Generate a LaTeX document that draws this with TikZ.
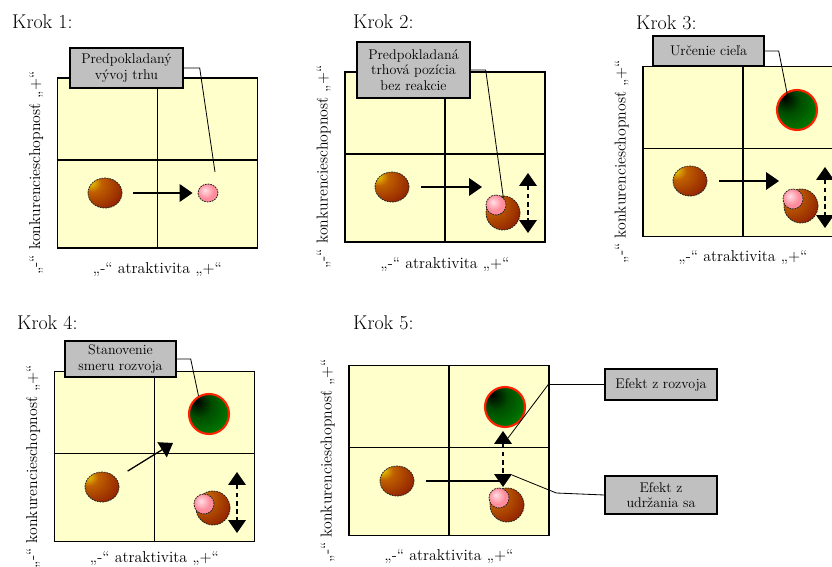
\documentclass[tikz,border=0pt]{standalone}
\usepackage{fontspec}
\usetikzlibrary{shapes,arrows.meta,calc,positioning}

\definecolor{matfill}{HTML}{FFFFCC}
\definecolor{popisfill}{HTML}{C0C0C0}
\definecolor{cielred}{HTML}{FF2000}
\definecolor{gulazlta}{HTML}{F0E000}
\definecolor{gulaoranz}{HTML}{C06000}
\definecolor{gulahneda}{HTML}{902000}
\definecolor{gulatmava}{HTML}{700000}
\colorlet{cielcierna}{black}
\colorlet{cielstred}{green!30!black}
\colorlet{cielzelena}{green!50!black}
\definecolor{trhsvetla}{HTML}{FFE0E6}
\definecolor{trhruzova}{HTML}{FF8C9C}

\pgfdeclareradialshading{hnedaball}{\pgfpoint{-24bp}{20bp}}{%
  color(0bp)=(gulazlta); color(14bp)=(gulaoranz); color(40bp)=(gulahneda); color(72bp)=(gulatmava)}
\pgfdeclareradialshading{zelenaball}{\pgfpoint{-16bp}{16bp}}{%
  color(0bp)=(cielcierna); color(16bp)=(cielstred); color(38bp)=(cielzelena); color(70bp)=(cielzelena)}
\pgfdeclareradialshading{ruzovaball}{\pgfpoint{-8bp}{8bp}}{%
  color(0bp)=(trhsvetla); color(20bp)=(trhruzova); color(60bp)=(trhruzova)}

\newcommand{\krokarrowtip}{Triangle[length=11pt,width=15pt]}
\tikzstyle{kvadr}=[draw=black, fill=matfill, line width=1.3pt, minimum width=6cm, minimum height=5.1cm, inner sep=0pt]
\tikzstyle{deliaca}=[line width=1pt]
\tikzstyle{osa}=[font=\rmfamily\fontsize{13.5}{16}\selectfont, inner sep=0pt]
\tikzstyle{krok}=[font=\rmfamily\fontsize{17}{20}\selectfont, anchor=west, inner sep=0pt]
\tikzstyle{popis}=[draw=black, fill=popisfill, line width=1.2pt, align=center, inner sep=0pt, font=\rmfamily\fontsize{12}{13}\selectfont]
\tikzstyle{vodiaca}=[line width=0.7pt]
\tikzstyle{vektor}=[-\krokarrowtip, line width=1.1pt]
\tikzstyle{posun}=[\krokarrowtip-\krokarrowtip, line width=1.1pt, dash pattern=on 4pt off 3pt]
\tikzstyle{gula}=[inner sep=0pt, draw=black!85, line width=0.7pt, dash pattern=on 1.5pt off 0.8pt]
\tikzstyle{hneda}=[gula, ellipse, shade, shading=hnedaball, minimum width=1.02cm, minimum height=0.9cm]
\tikzstyle{hnedavelka}=[gula, circle, shade, shading=hnedaball, minimum size=1.02cm]
\tikzstyle{ruzova}=[gula, circle, shade, shading=ruzovaball, minimum size=0.6cm]
\tikzstyle{ciel}=[circle, shade, shading=zelenaball, draw=cielred, line width=1.8pt, minimum size=1.2cm, inner sep=0pt]

% matica: stvorec, deliace ciary a popisy osi (#3 = odstup popisu x-osi)
\newcommand{\kvadrant}[3]{%
  \node[kvadr] (#1) at (#2) {};
  \draw[deliaca] (#1.north) -- (#1.south);
  \draw[deliaca] ([yshift=0.09cm]#1.west) -- ([yshift=0.09cm]#1.east);
  \node[osa] (#1x) at ([yshift=-#3]#1.south) {„-“ atraktivita „+“};
  \node[osa, rotate=90] (#1y) at ([xshift=-0.62cm,yshift=-0.3cm]#1.west) {„-“ konkurencieschopnosť „+“};
}

\begin{document}
\begin{tikzpicture}[x=0.03cm, y=-0.03cm]

  \useasboundingbox (0,0) rectangle (832,567);
  \fill[white] (0,0) rectangle (832,567);

  % Krok 1
  \node[krok] (krok1) at (12,22) {Krok 1:};
  \kvadrant{m1}{157.5,163}{0.62cm}
  \node[hneda] (m1firma) at (105,193) {};
  \node[ruzova, minimum width=0.6cm, minimum height=0.54cm, ellipse] (m1trh) at (208,193) {};
  \draw[vektor, shorten <=0.33cm, shorten >=0.15cm] (m1firma) -- (m1trh);
  \node[popis, minimum width=3.39cm, minimum height=1.2cm] (m1popis) at (126.5,68) {Predpokladaný\\vývoj trhu};
  \coordinate (m1koniec) at (215,172);
  \draw[vodiaca] (m1popis.east) -- ++(16,0) -- (m1koniec);

  % Krok 2
  \node[krok] (krok2) at (353,22) {Krok 2:};
  \kvadrant{m2}{445,157}{0.66cm}
  \node[hneda] (m2firma) at (392,187) {};
  \coordinate (m2cil) at (482,187);
  \draw[vektor, shorten <=0.36cm] (m2firma) -- (m2cil);
  \node[hnedavelka] (m2poz) at (503,213) {};
  \node[ruzova] (m2trh) at (496,205) {};
  \coordinate (m2hore) at (528,173);
  \coordinate (m2dole) at (528,233);
  \draw[posun] (m2hore) -- (m2dole);
  \node[popis, minimum width=3.39cm, minimum height=1.68cm] (m2popis) at (413.5,70) {Predpokladaná\\trhová pozícia\\bez reakcie};
  \draw[vodiaca] (m2popis.east) -- ++(15,0) -- (m2trh.north east);

  % Krok 3
  \node[krok] (krok3) at (636,23) {Krok 3:};
  \kvadrant{m3}{743,151.5}{0.62cm}
  \node[hneda] (m3firma) at (690,181) {};
  \coordinate (m3cil) at (779,181);
  \draw[vektor, shorten <=0.36cm] (m3firma) -- (m3cil);
  \node[hnedavelka] (m3poz) at (801,206) {};
  \node[ruzova] (m3trh) at (793,199) {};
  \coordinate (m3hore) at (825,167);
  \coordinate (m3dole) at (825,228);
  \draw[posun] (m3hore) -- (m3dole);
  \node[ciel] (m3ciel) at (797,110) {};
  \node[popis, minimum width=3.33cm, minimum height=0.9cm] (m3popis) at (708.5,51) {Určenie cieľa};
  \coordinate (m3koniec) at (788,98);
  \draw[vodiaca] (m3popis.east) -- ++(14,0) -- (m3koniec);

  % Krok 4
  \node[krok] (krok4) at (17,323) {Krok 4:};
  \kvadrant{m4}{154.5,456.5}{0.5cm}
  \node[hneda] (m4firma) at (102,487) {};
  \coordinate (m4cil) at (173,443);
  \draw[vektor, shorten <=0.4cm] (m4firma) -- (m4cil);
  \node[hnedavelka] (m4poz) at (213,508) {};
  \node[ruzova] (m4trh) at (204,504) {};
  \coordinate (m4hore) at (237,472);
  \coordinate (m4dole) at (237,533);
  \draw[posun] (m4hore) -- (m4dole);
  \node[ciel] (m4ciel) at (209,414) {};
  \node[popis, minimum width=3.33cm, minimum height=1.08cm] (m4popis) at (120.5,359) {Stanovenie\\smeru rozvoja};
  \draw[vodiaca] (m4popis.east) -- ++(14,0) -- (m4ciel.120);

  % Krok 5
  \node[krok] (krok5) at (353,323) {Krok 5:};
  \kvadrant{m5}{449,450.5}{0.62cm}
  \node[hneda] (m5firma) at (397,481) {};
  \node[hnedavelka] (m5poz) at (507,505) {};
  \node[ruzova] (m5trh) at (499,498) {};
  \node[ciel] (m5ciel) at (505,407) {};
  \coordinate (m5zlom) at (503,481);
  \draw[line width=1.1pt, shorten <=0.36cm] (m5firma) -- (m5zlom);
  \coordinate (m5hore) at (503,431);
  \coordinate (m5dole) at (503,487);
  \draw[posun] (m5hore) -- (m5dole);
  \node[popis, minimum width=3.36cm, minimum height=0.93cm] (m5rozvoj) at (661,384.5) {Efekt z rozvoja};
  \node[popis, minimum width=3.36cm, minimum height=1.14cm] (m5udrz) at (661,495) {Efekt z\\udržania sa};
  \coordinate (m5a) at (508,438);
  \coordinate (m5b) at (512,475);
  \draw[vodiaca] (m5rozvoj.west) -- ++(-56,0) -- (m5a);
  \draw[vodiaca] (m5udrz.west) -- ++(-48,-2) -- (m5b);

\end{tikzpicture}
\end{document}
